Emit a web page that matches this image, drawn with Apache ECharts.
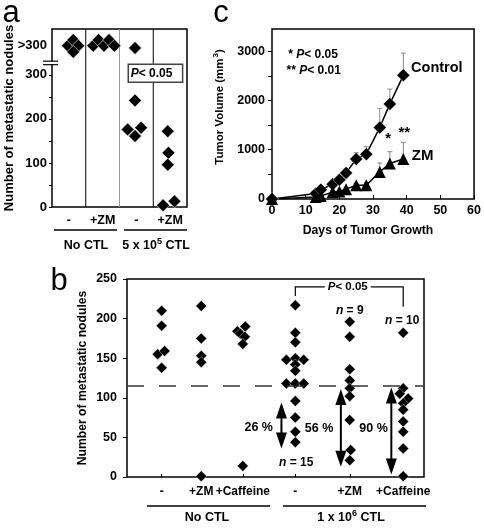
<!DOCTYPE html>
<html><head><meta charset="utf-8">
<script src="https://cdn.jsdelivr.net/npm/echarts@6/dist/echarts.min.js"></script>
<style>html,body{margin:0;padding:0;background:#fff}#c{width:484px;height:528px}</style>
</head><body><div id="c"></div>
<script>
// ---------------- Panel a data ----------------
const aCategories = ['-', '+ZM', '-', '+ZM'];
const aGroups = ['No CTL', '5 x 10{s|5} CTL'];
const aNoCtl = [366, 379, 366, 352];
const aNoCtlZM = [366, 379, 366, 379, 366];
const aCtl = [361, 242, 176, 161, 180];
const aCtlZM = [172, 123, 96, 4, 13];
const aYLabels = [0, 100, 200, 300, 366];
const aYTicks = [0, 50, 100, 150, 200, 250, 300];
const aOverValue = 366;          // plotted position of ">300"
const aBreakValues = [323, 331];
const aPText = 'P< 0.05';

// ---------------- Panel c data ----------------
const cDays = [0, 13, 14.5, 18, 20, 22, 25, 28, 32, 35, 39];
const cControl = [0, 110, 190, 300, 390, 530, 810, 910, 1450, 1930, 2510];
const cControlErr = [0, 20, 30, 40, 50, 60, 130, 150, 390, 300, 450];
const cZM = [0, 40, 60, 140, 150, 200, 280, 280, 550, 720, 810];
const cZMErr = [0, 10, 15, 20, 25, 30, 40, 50, 180, 240, 340];
const cYLabels = [0, 1000, 2000, 3000];
const cYTicks = [0, 500, 1000, 1500, 2000, 2500, 3000];

// ---------------- Panel b data ----------------
const bCategories = ['-', '+ZM', '+Caffeine', '-', '+ZM', '+Caffeine'];
const bGroups = ['No CTL', '1 x 10{s|6} CTL'];
const bNoCtl = [210, 191, 155, 159, 138];
const bNoCtlZM = [216, 175, 153, 145, 1];
const bNoCtlCaf = [190, 184, 181, 177, 168, 14];
const bCtl = [217, 182, 170, 148, 150, 148, 142, 134, 118, 118, 118, 96, 75, 57, 44];
const bCtlZM = [196, 177, 136, 122, 112, 102, 72, 34, 21];
const bCtlCaf = [182, 112, 105, 99, 93, 85, 70, 57, 36, 1];
const bThreshold = 115;
const bReductions = ['26 %', '56 %', '90 %'];
const bArrowTop = [94, 111, 113];
const bArrowBottom = [36, 13, 3];
const bNLabels = ['n = 15', 'n = 9', 'n = 10'];

// ---------------- layout (positions / jitter) ----------------
const aJitter = [[-0.03, 0.13, 0.28, 0.13], [-0.28, -0.12, 0.04, 0.19, 0.35],
                 [-0.04, -0.04, -0.26, -0.04, 0.14], [-0.07, -0.05, -0.07, -0.21, 0.13]];
const bCatPos = [3.5, 7.5, 11.7, 17.0, 22.5, 27.9];
const bJitter = [[0, 0, -0.4, 0.3, 0], [0, 0, 0, 0, 0], [0.25, -0.55, -0.25, 0.2, 0, 0],
                 [0, 0, 0, -0.9, 0, 0.85, 0, 0, -0.9, 0, 0.85, 0, 0, 0, 0],
                 [0, 0, 0, 0, 0, 0, 0, 0.1, 0], [0, 0, -0.35, 0.5, 0, 0, 0, 0, 0, 0]];
const bArrowX = [15.6, 21.6, 26.7];
const bReductionPos = [[13.3, 63], [19.4, 61], [24.9, 61]];
const bNPos = [[17.1, 18], [22.5, 210], [27.8, 197]];

const FF = '"Liberation Sans", Arial, Helvetica, sans-serif';
const B = { fontFamily: FF, fontWeight: 'bold', color: '#000' };

const aSeriesVals = [aNoCtl, aNoCtlZM, aCtl, aCtlZM];
const bSeriesVals = [bNoCtl, bNoCtlZM, bNoCtlCaf, bCtl, bCtlZM, bCtlCaf];

function nearestIdx(arr, v) { let bi = 0; arr.forEach((a, i) => { if (Math.abs(a - v) < Math.abs(arr[bi] - v)) bi = i; }); return bi; }

const chart = echarts.init(document.getElementById('c'), null, { renderer: 'canvas' });

function txt(x, y, text, size, align) {
  return { type: 'text', x: x, y: y, style: { text: text, fontFamily: FF, fontSize: size, fontWeight: 'bold', fill: '#000', align: align || 'center', verticalAlign: 'middle' } };
}

// annotations panel a
function renderA(params, api) {
  const ch = [];
  [1, 2, 3].forEach(x => {
    const p1 = api.coord([x, 0]), p2 = api.coord([x, 404]);
    ch.push({ type: 'line', shape: { x1: p1[0], y1: p1[1], x2: p2[0], y2: p2[1] }, style: { stroke: x === 2 ? '#999' : '#000', lineWidth: 1 } });
  });
  const b1 = api.coord([0, aBreakValues[0]]), b2 = api.coord([0, aBreakValues[1]]);
  ch.push({ type: 'rect', shape: { x: b1[0] - 2, y: b2[1], width: 4, height: b1[1] - b2[1] }, style: { fill: '#fff' } });
  [b1, b2].forEach(p => ch.push({ type: 'line', shape: { x1: p[0] - 9, y1: p[1], x2: p[0] + 6, y2: p[1] }, style: { stroke: '#000', lineWidth: 1.2 } }));
  const r1 = api.coord([2.26, 324]), r2 = api.coord([3.87, 283]);
  ch.push({ type: 'rect', shape: { x: r1[0], y: r1[1], width: r2[0] - r1[0], height: r2[1] - r1[1] }, style: { fill: '#fff', stroke: '#444', lineWidth: 1.5 } });
  const tp = api.coord([2.3, 303.5]);
  ch.push({ type: 'text', x: tp[0] + 1, y: tp[1], style: { text: '{i|P}{n|' + aPText.slice(1) + '}', rich: { i: { fontStyle: 'italic', fontWeight: 'bold', fontSize: 12, fontFamily: FF, fill: '#000' }, n: { fontWeight: 'bold', fontSize: 12, fontFamily: FF, fill: '#000' } }, align: 'left', verticalAlign: 'middle' } });
  return { type: 'group', children: ch };
}

// annotations panel c
function renderC(params, api) {
  const ch = [];
  const rich = { i: { fontStyle: 'italic', fontWeight: 'bold', fontSize: 12, fontFamily: FF, fill: '#000' }, n: { fontWeight: 'bold', fontSize: 12, fontFamily: FF, fill: '#000' } };
  let p = api.coord([4.8, 2920]);
  ch.push({ type: 'text', x: p[0], y: p[1], style: { text: '{n|* }{i|P}{n|< 0.05}', rich: rich, align: 'left', verticalAlign: 'middle' } });
  p = api.coord([4.3, 2600]);
  ch.push({ type: 'text', x: p[0], y: p[1], style: { text: '{n|** }{i|P}{n|< 0.01}', rich: rich, align: 'left', verticalAlign: 'middle' } });
  p = api.coord([41.3, 2660]);
  ch.push(txt(p[0], p[1], 'Control', 14.5, 'left'));
  p = api.coord([41.5, 870]);
  ch.push(txt(p[0], p[1], 'ZM', 15, 'left'));
  p = api.coord([34.5, 1230]);
  ch.push(txt(p[0], p[1], '*', 15));
  p = api.coord([39.3, 1350]);
  ch.push(txt(p[0], p[1], '**', 15));
  return { type: 'group', children: ch };
}

function renderErr(params, api) {
  const err = api.value(2);
  if (!err) return null;
  const base = api.coord([api.value(0), api.value(1)]);
  const top = api.coord([api.value(0), api.value(1) + err]);
  return { type: 'group', children: [
    { type: 'line', shape: { x1: base[0], y1: base[1], x2: top[0], y2: top[1] }, style: { stroke: '#8a8a8a', lineWidth: 1 } },
    { type: 'line', shape: { x1: top[0] - 2.5, y1: top[1], x2: top[0] + 2.5, y2: top[1] }, style: { stroke: '#8a8a8a', lineWidth: 1 } }
  ] };
}

// annotations panel b
function renderB(params, api) {
  const ch = [];
  bArrowX.forEach((x, i) => {
    const t = api.coord([x, bArrowTop[i]]), b = api.coord([x, bArrowBottom[i]]);
    const hw = 5.5, hl = 16;
    ch.push({ type: 'line', shape: { x1: t[0], y1: t[1] + hl - 1, x2: b[0], y2: b[1] - hl + 1 }, style: { stroke: '#000', lineWidth: 2 } });
    ch.push({ type: 'polygon', shape: { points: [[t[0], t[1]], [t[0] - hw, t[1] + hl], [t[0] + hw, t[1] + hl]] }, style: { fill: '#000' } });
    ch.push({ type: 'polygon', shape: { points: [[b[0], b[1]], [b[0] - hw, b[1] - hl], [b[0] + hw, b[1] - hl]] }, style: { fill: '#000' } });
    const rp = api.coord(bReductionPos[i]);
    ch.push(txt(rp[0], rp[1], bReductions[i], 12.5));
    const np = api.coord(bNPos[i]);
    const parts = bNLabels[i].split(' = ');
    ch.push({ type: 'text', x: np[0], y: np[1], style: { text: '{i|' + parts[0] + '}{n| = ' + parts[1] + '}', rich: { i: { fontStyle: 'italic', fontWeight: 'bold', fontSize: 12, fontFamily: FF, fill: '#000' }, n: { fontWeight: 'bold', fontSize: 12, fontFamily: FF, fill: '#000' } }, align: 'center', verticalAlign: 'middle' } });
  });
  const pl = api.coord([bCatPos[3], 228.5]), pt = api.coord([bCatPos[3], 240]), pr = api.coord([bCatPos[5], 240]), prb = api.coord([bCatPos[5], 215]);
  ch.push({ type: 'polyline', shape: { points: [pl, pt, pr, prb] }, style: { stroke: '#000', lineWidth: 1.2, fill: null } });
  const pp = api.coord([22.3, 240]);
  ch.push({ type: 'text', x: pp[0], y: pp[1], style: { text: '{i|P}{n|< 0.05}', backgroundColor: '#fff', padding: [0, 3], rich: { i: { fontStyle: 'italic', fontWeight: 'bold', fontSize: 11.5, fontFamily: FF, fill: '#000' }, n: { fontWeight: 'bold', fontSize: 11.5, fontFamily: FF, fill: '#000' } }, align: 'center', verticalAlign: 'middle' } });
  return { type: 'group', children: ch };
}

const gridBase = { show: true, borderColor: '#000', borderWidth: 1.5, backgroundColor: 'transparent' };
const diamondA = { color: '#000', opacity: 1, borderColor: '#fff', borderWidth: 0.6 };
const diamondB = { color: '#000', opacity: 1, borderColor: '#fff', borderWidth: 0.4 };

const series = [];
aSeriesVals.forEach((vals, g) => {
  series.push({ type: 'scatter', xAxisIndex: 0, yAxisIndex: 0, symbol: 'diamond', symbolSize: 13, clip: false,
    itemStyle: diamondA, data: vals.map((v, i) => [g + 0.5 + aJitter[g][i], v]), z: 3 });
});
series.push({ type: 'custom', xAxisIndex: 0, yAxisIndex: 0, clip: false, data: [[0, 0]], renderItem: renderA, z: 2, silent: true });

series.push({ type: 'custom', xAxisIndex: 1, yAxisIndex: 1, clip: false, z: 1, silent: true,
  data: cDays.map((d, i) => [d, cControl[i], cControlErr[i]]), renderItem: renderErr });
series.push({ type: 'custom', xAxisIndex: 1, yAxisIndex: 1, clip: false, z: 1, silent: true,
  data: cDays.map((d, i) => [d, cZM[i], cZMErr[i]]), renderItem: renderErr });
series.push({ type: 'line', xAxisIndex: 1, yAxisIndex: 1, clip: false, symbol: 'diamond', symbolSize: 13, z: 3,
  lineStyle: { color: '#000', width: 1.5 }, itemStyle: diamondB, data: cDays.map((d, i) => [d, cControl[i]]) });
series.push({ type: 'line', xAxisIndex: 1, yAxisIndex: 1, clip: false, symbol: 'triangle', symbolSize: 12, z: 3,
  lineStyle: { color: '#000', width: 1.5 }, itemStyle: { color: '#000', opacity: 1 }, data: cDays.map((d, i) => [d, cZM[i]]) });
series.push({ type: 'custom', xAxisIndex: 1, yAxisIndex: 1, clip: false, data: [[0, 0]], renderItem: renderC, z: 4, silent: true });

bSeriesVals.forEach((vals, g) => {
  const s = { type: 'scatter', xAxisIndex: 2, yAxisIndex: 2, symbol: 'diamond', symbolSize: 11, clip: false,
    itemStyle: diamondB, data: vals.map((v, i) => [bCatPos[g] + bJitter[g][i], v]), z: 3 };
  if (g === 0) s.markLine = { silent: true, symbol: 'none', label: { show: false }, lineStyle: { color: '#333', width: 1.5, type: [17, 15] }, data: [{ yAxis: bThreshold }] };
  series.push(s);
});
series.push({ type: 'custom', xAxisIndex: 2, yAxisIndex: 2, clip: false, data: [[0, 0]], renderItem: renderB, z: 4, silent: true });

const plain = v => String(v);

const option = {
  animation: false,
  backgroundColor: '#fff',
  grid: [
    Object.assign({ left: 52, top: 29, width: 135, height: 178 }, gridBase),
    Object.assign({ left: 272, top: 29, width: 204, height: 170 }, gridBase),
    Object.assign({ left: 127, top: 279, width: 297, height: 198 }, gridBase)
  ],
  xAxis: [
    { gridIndex: 0, type: 'value', min: 0, max: 4, axisLine: { show: false }, splitLine: { show: false }, axisTick: { show: false },
      axisLabel: Object.assign({ customValues: [0.5, 1.5, 2.5, 3.5], formatter: v => aCategories[Math.floor(v)], fontSize: 12.5, margin: 7 }, B) },
    { gridIndex: 1, type: 'value', min: 0, max: 60, interval: 10, axisLine: { show: false }, splitLine: { show: false },
      axisTick: { inside: true, length: 4, lineStyle: { color: '#000' } },
      axisLabel: Object.assign({ fontSize: 12.5, margin: 5, formatter: plain }, B) },
    { gridIndex: 2, type: 'value', min: 0, max: 30, axisLine: { show: false }, splitLine: { show: false },
      axisTick: { customValues: bCatPos, inside: true, length: 3, lineStyle: { color: '#000' } },
      axisLabel: Object.assign({ customValues: bCatPos, formatter: v => bCategories[nearestIdx(bCatPos, v)], fontSize: 12, margin: 9 }, B) }
  ],
  yAxis: [
    { gridIndex: 0, type: 'value', min: 0, max: 404, axisLine: { show: false }, splitLine: { show: false },
      axisTick: { customValues: aYTicks, length: 3, lineStyle: { color: '#000' } },
      axisLabel: Object.assign({ customValues: aYLabels, formatter: v => (v === aOverValue ? '>300' : String(v)), fontSize: 13, margin: 5 }, B) },
    { gridIndex: 1, type: 'value', min: 0, max: 3450, axisLine: { show: false }, splitLine: { show: false },
      axisTick: { customValues: cYTicks, length: 4, lineStyle: { color: '#000' } },
      axisLabel: Object.assign({ customValues: cYLabels, fontSize: 12.5, margin: 7, formatter: plain }, B) },
    { gridIndex: 2, type: 'value', min: 0, max: 250, interval: 50, axisLine: { show: false }, splitLine: { show: false },
      axisTick: { length: 4, lineStyle: { color: '#000' } },
      axisLabel: Object.assign({ fontSize: 12.5, margin: 10, formatter: plain }, B) }
  ],
  graphic: [
    { type: 'text', x: 11, y: 13, style: { text: 'a', fontFamily: FF, fontSize: 31, fill: '#000', align: 'center', verticalAlign: 'middle' } },
    { type: 'text', x: 221, y: 13, style: { text: 'c', fontFamily: FF, fontSize: 31, fill: '#000', align: 'center', verticalAlign: 'middle' } },
    { type: 'text', x: 59, y: 281, style: { text: 'b', fontFamily: FF, fontSize: 31, fill: '#000', align: 'center', verticalAlign: 'middle' } },
    { type: 'text', x: 9, y: 118, rotation: Math.PI / 2, style: { text: 'Number of metastatic nodules', fontFamily: FF, fontSize: 13, fontWeight: 'bold', fill: '#000', align: 'center', verticalAlign: 'middle' } },
    { type: 'text', x: 83, y: 378, rotation: Math.PI / 2, style: { text: 'Number of metastatic nodules', fontFamily: FF, fontSize: 12.2, fontWeight: 'bold', fill: '#000', align: 'center', verticalAlign: 'middle' } },
    { type: 'text', x: 220, y: 107, rotation: Math.PI / 2, style: { text: 'Tumor Volume (mm{s|3})', rich: { s: { fontSize: 8, fontWeight: 'bold', fontFamily: FF, fill: '#000', padding: [0, 0, 8, 1] } }, fontFamily: FF, fontSize: 11.5, fontWeight: 'bold', fill: '#000', align: 'center', verticalAlign: 'middle' } },
    { type: 'text', x: 368, y: 231, style: { text: 'Days of Tumor Growth', fontFamily: FF, fontSize: 12.2, fontWeight: 'bold', fill: '#000', align: 'center', verticalAlign: 'middle' } },
    { type: 'line', shape: { x1: 54, y1: 230, x2: 117, y2: 230 }, style: { stroke: '#000', lineWidth: 1.5 } },
    { type: 'line', shape: { x1: 124, y1: 230, x2: 187, y2: 230 }, style: { stroke: '#000', lineWidth: 1.5 } },
    { type: 'text', x: 86, y: 246, style: { text: aGroups[0], fontFamily: FF, fontSize: 12.5, fontWeight: 'bold', fill: '#000', align: 'center', verticalAlign: 'middle' } },
    { type: 'text', x: 156, y: 246, style: { text: aGroups[1], rich: { s: { fontSize: 9, fontWeight: 'bold', fontFamily: FF, fill: '#000', padding: [0, 0, 8, 0] } }, fontFamily: FF, fontSize: 12.5, fontWeight: 'bold', fill: '#000', align: 'center', verticalAlign: 'middle' } },
    { type: 'line', shape: { x1: 147, y1: 506, x2: 270, y2: 506 }, style: { stroke: '#000', lineWidth: 1.5 } },
    { type: 'line', shape: { x1: 283, y1: 506, x2: 426, y2: 506 }, style: { stroke: '#000', lineWidth: 1.5 } },
    { type: 'text', x: 207, y: 518, style: { text: bGroups[0], fontFamily: FF, fontSize: 12.5, fontWeight: 'bold', fill: '#000', align: 'center', verticalAlign: 'middle' } },
    { type: 'text', x: 351, y: 518, style: { text: bGroups[1], rich: { s: { fontSize: 9, fontWeight: 'bold', fontFamily: FF, fill: '#000', padding: [0, 0, 8, 0] } }, fontFamily: FF, fontSize: 12.5, fontWeight: 'bold', fill: '#000', align: 'center', verticalAlign: 'middle' } }
  ],
  series: series
};
chart.setOption(option);
</script>
</body></html>
